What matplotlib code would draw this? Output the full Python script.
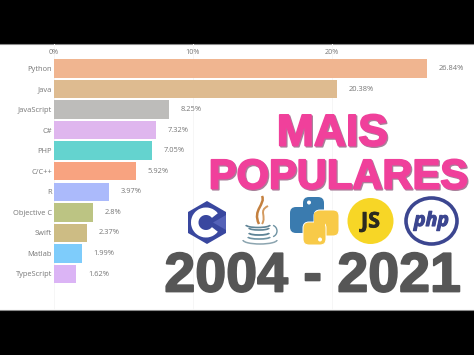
import matplotlib
matplotlib.use("Agg")
import matplotlib.pyplot as plt
import matplotlib.patheffects as pe
from matplotlib.patches import Arc, Circle, Ellipse, Polygon, Wedge, FancyBboxPatch, PathPatch
from matplotlib.path import Path

languages = ["Python", "Java", "JavaScript", "C#", "PHP", "C/C++", "R",
             "Objective C", "Swift", "Matlab", "TypeScript"]
shares = [26.84, 20.38, 8.25, 7.32, 7.05, 5.92, 3.97, 2.8, 2.37, 1.99, 1.62]
value_labels = ["26.84%", "20.38%", "8.25%", "7.32%", "7.05%", "5.92%", "3.97%",
                "2.8%", "2.37%", "1.99%", "1.62%"]
bar_colors = ["#F0B590", "#DEBB90", "#BDBCBA", "#DFB6EE", "#64D3CF", "#F8A380",
              "#ABBAFB", "#BCC483", "#CDBC84", "#7ECCFB", "#DBB4F5"]
x_ticks = [0, 10, 20]
x_tick_labels = ["0%", "10%", "20%"]
title_lines = ["MAIS", "POPULARES"]
period = "2004 - 2021"

W, H = 474, 355
fig = plt.figure(figsize=(W / 100, H / 100), dpi=100, facecolor="black")
plt.rcParams["font.family"] = ["Open Sans", "DejaVu Sans"]
HEAVY = "Liberation Sans"

# white content band
bg = fig.add_axes([0, 0, 1, 1]); bg.set_xlim(0, W); bg.set_ylim(H, 0); bg.axis("off")
bg.fill_between([0, W], 44, 310, color="white", lw=0)
bg.plot([0, W], [44, 44], color="#8a8a8a", lw=0.8)
bg.plot([0, W], [310, 310], color="#8a8a8a", lw=0.8)

# bar chart
ax = fig.add_axes([54 / W, (H - 310) / H, (W - 54) / W, 266 / H])
ax.patch.set_alpha(0)
ax.set_xlim(0, 420 / 13.88)
ax.set_ylim((310 - 68.5) / 20.55, (44 - 68.5) / 20.55)
ax.barh(range(len(languages)), shares, height=0.9, color=bar_colors, zorder=2)
for s in ax.spines.values():
    s.set_visible(False)
ax.set_yticks(range(len(languages)))
ax.set_yticklabels(languages, fontsize=5.4, color="#777777")
ax.set_xticks(x_ticks)
ax.set_xticklabels(x_tick_labels, fontsize=5.2, color="#777777")
ax.xaxis.tick_top()
ax.tick_params(length=0)
ax.tick_params(axis="y", pad=1.5)
ax.tick_params(axis="x", pad=-8.5)
ax.grid(axis="x", color="#f6f6f6", lw=0.7, zorder=0)
ax.set_axisbelow(True)
for i, (v, lab) in enumerate(zip(shares, value_labels)):
    ax.annotate(lab, (v, i), xytext=(8.5, 0), textcoords="offset points",
                va="center", ha="left", fontsize=5.4, color="#777777")

# overlay: headline and logos
ov = fig.add_axes([0, 0, 1, 1]); ov.set_xlim(0, W); ov.set_ylim(H, 0); ov.axis("off"); ov.patch.set_alpha(0)

def headline(x, y, s, size, color, shadow=None):
    fx = [pe.withStroke(linewidth=1.3, foreground=color)]
    if shadow:
        ov.text(x + 1.2, y + 1.2, s, fontsize=size, color=shadow, fontweight="bold", family=HEAVY, ha="center",
                va="baseline", path_effects=[pe.withStroke(linewidth=1.3, foreground=shadow)])
    ov.text(x, y, s, fontsize=size, color=color, fontweight="bold", family=HEAVY, ha="center", va="baseline", path_effects=fx)

headline(332.5, 145.5, title_lines[0], 32, "#F0409B", "#A9809A")
headline(338, 188.5, title_lines[1], 30, "#F0409B", "#A9809A")
headline(312.5, 291.5, period, 40, "#565656")

# C hexagon
hexagon = [(207, 201), (226, 212), (226, 233), (207, 244), (188, 233), (188, 212)]
ov.add_patch(Polygon(hexagon, closed=True, color="#39479F", lw=0))
ov.add_patch(Wedge((206, 222.5), 15, 38, 322, width=7.5, color="white", lw=0))
ov.add_patch(Polygon([(213, 222.5), (226, 215), (226, 230)], closed=True, color="#5562B8", lw=0))

# Java cup: steam, cup rings, saucer
steam_a = Path([(262, 196), (266, 204), (252, 210), (259, 224)],
               [Path.MOVETO, Path.CURVE4, Path.CURVE4, Path.CURVE4])
steam_b = Path([(268, 206), (258, 211), (267, 216), (262, 224)],
               [Path.MOVETO, Path.CURVE4, Path.CURVE4, Path.CURVE4])
ov.add_patch(PathPatch(steam_a, fc="none", ec="#C4803F", lw=1.8))
ov.add_patch(PathPatch(steam_b, fc="none", ec="#D39A60", lw=1.4))
ov.add_patch(Arc((258, 225), 24, 5, theta1=0, theta2=180, ec="#5F8496", lw=1.2))
ov.add_patch(Arc((259, 228), 20, 4, theta1=0, theta2=180, ec="#5F8496", lw=1.2))
ov.add_patch(Arc((259, 233), 20, 4, theta1=0, theta2=180, ec="#5F8496", lw=1.3))
ov.add_patch(Arc((259, 237), 22, 4, theta1=0, theta2=180, ec="#6F93A3", lw=1.2))
ov.add_patch(Arc((271, 231), 12, 12, theta1=-70, theta2=70, ec="#6F93A3", lw=1.0))
ov.add_patch(Arc((260, 240), 34, 8, theta1=0, theta2=180, ec="#8CA5B0", lw=1.1))

# Python logo
blue, yellow = "#3A7BAF", "#F8CA48"
for x, y, w, h in [(303, 197, 21, 24), (290, 207, 25, 26)]:
    ov.add_patch(FancyBboxPatch((x, y), w, h, boxstyle="round,pad=0,rounding_size=6", fc=blue, lw=0))
for x, y, w, h in [(314, 210, 25, 26), (303, 222, 23, 23)]:
    ov.add_patch(FancyBboxPatch((x, y), w, h, boxstyle="round,pad=0,rounding_size=6", fc=yellow, ec="white", lw=0.7))
ov.add_patch(FancyBboxPatch((314, 212), 11, 22, boxstyle="round,pad=0,rounding_size=2", fc=yellow, lw=0))
ov.add_patch(Circle((309, 202.5), 2, color="white", lw=0))
ov.add_patch(Circle((320, 239.5), 2, color="white", lw=0))

# JS badge
ov.add_patch(Circle((370.5, 221), 23, color="#F7D626", lw=0))
ov.text(370.5, 222, "JS", fontsize=15.5, fontweight="bold", color="#2b2b20", ha="center", va="center",
        path_effects=[pe.withStroke(linewidth=0.5, foreground="#2b2b20")])

# PHP badge
ov.add_patch(Ellipse((431.5, 221), 51, 46, fc="white", ec="#3C4690", lw=2.6))
ov.text(431.5, 221, "php", fontsize=14, fontweight="bold", style="italic", color="#3C4690",
        ha="center", va="center", path_effects=[pe.withStroke(linewidth=0.8, foreground="#3C4690")])

fig.savefig("out.png", dpi=100, facecolor="black")
